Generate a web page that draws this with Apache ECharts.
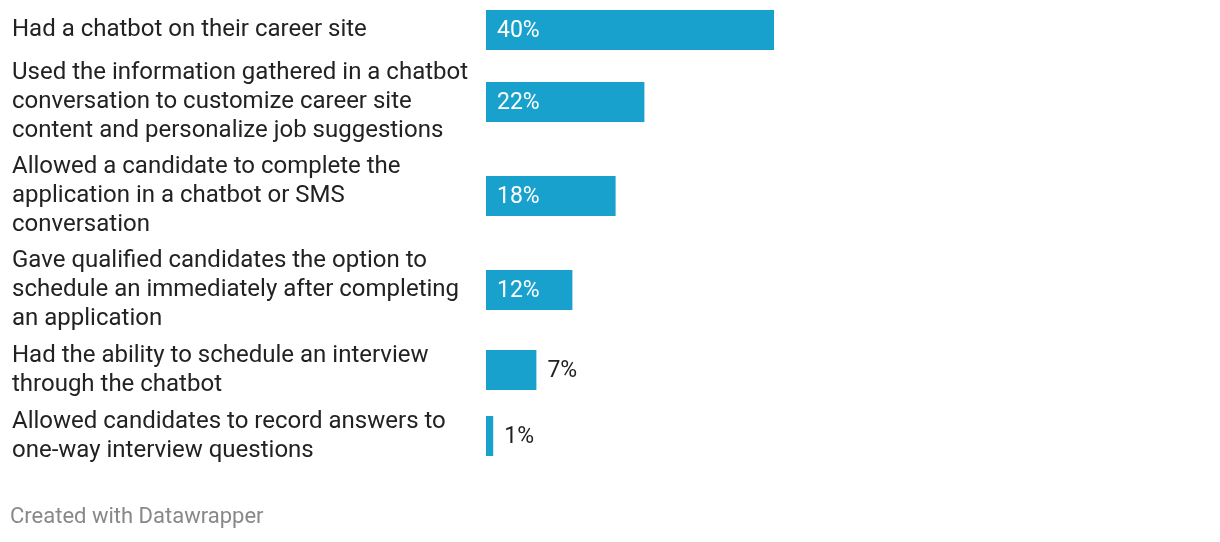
<!DOCTYPE html>
<html>
<head>
<meta charset="utf-8">
<script src="https://cdn.jsdelivr.net/npm/echarts@6/dist/echarts.min.js"></script>
<style>
  html, body { margin: 0; padding: 0; background: #ffffff; }
  #chart { width: 1220px; height: 542px; }
</style>
</head>
<body>
<div id="chart"></div>
<script>
// ---- data ----
const categories = [
  "Had a chatbot on their career site",
  "Used the information gathered in a chatbot conversation to customize career site content and personalize job suggestions",
  "Allowed a candidate to complete the application in a chatbot or SMS conversation",
  "Gave qualified candidates the option to schedule an immediately after completing an application",
  "Had the ability to schedule an interview through the chatbot",
  "Allowed candidates to record answers to one-way interview questions"
];
const values = [40, 22, 18, 12, 7, 1];
const footerText = "Created with Datawrapper";

// ---- layout (row positions, not data) ----
const rowTops = [10, 82, 176, 270, 350, 416];
const barHeight = 40;
const plotLeft = 486;
const plotWidth = 720;

const FONT = "Roboto, 'Noto Sans', sans-serif";
const grids = [], xAxes = [], yAxes = [], series = [];

categories.forEach((cat, i) => {
  grids.push({ left: plotLeft, top: rowTops[i], width: plotWidth, height: barHeight, containLabel: false });
  xAxes.push({ gridIndex: i, type: 'value', min: 0, max: 100, show: false });
  yAxes.push({
    gridIndex: i, type: 'category', data: [cat],
    axisLine: { show: false }, axisTick: { show: false }, splitLine: { show: false },
    axisLabel: {
      align: 'left', margin: plotLeft - 12,
      width: 465, overflow: 'break',
      padding: [3, 0, 0, 0],
      fontFamily: FONT, fontSize: 24, lineHeight: 29, color: '#222222'
    }
  });
  const inside = values[i] >= 10;
  series.push({
    type: 'bar', xAxisIndex: i, yAxisIndex: i,
    data: [values[i]], barWidth: barHeight,
    itemStyle: { color: '#18a1cd' },
    silent: true,
    label: {
      show: true,
      position: inside ? 'insideLeft' : 'right',
      distance: 11,
      offset: [0, 1.5],
      formatter: '{c}%',
      fontFamily: FONT, fontSize: 23,
      color: inside ? '#ffffff' : '#222222'
    }
  });
});

const chart = echarts.init(document.getElementById('chart'), null, { renderer: 'canvas' });
chart.setOption({
  animation: false,
  backgroundColor: '#ffffff',
  graphic: [{
    type: 'text', left: 10, top: 506,
    style: { text: footerText, fontFamily: FONT, fontSize: 22, fill: '#888888' }
  }],
  grid: grids, xAxis: xAxes, yAxis: yAxes, series: series
});
</script>
</body>
</html>
